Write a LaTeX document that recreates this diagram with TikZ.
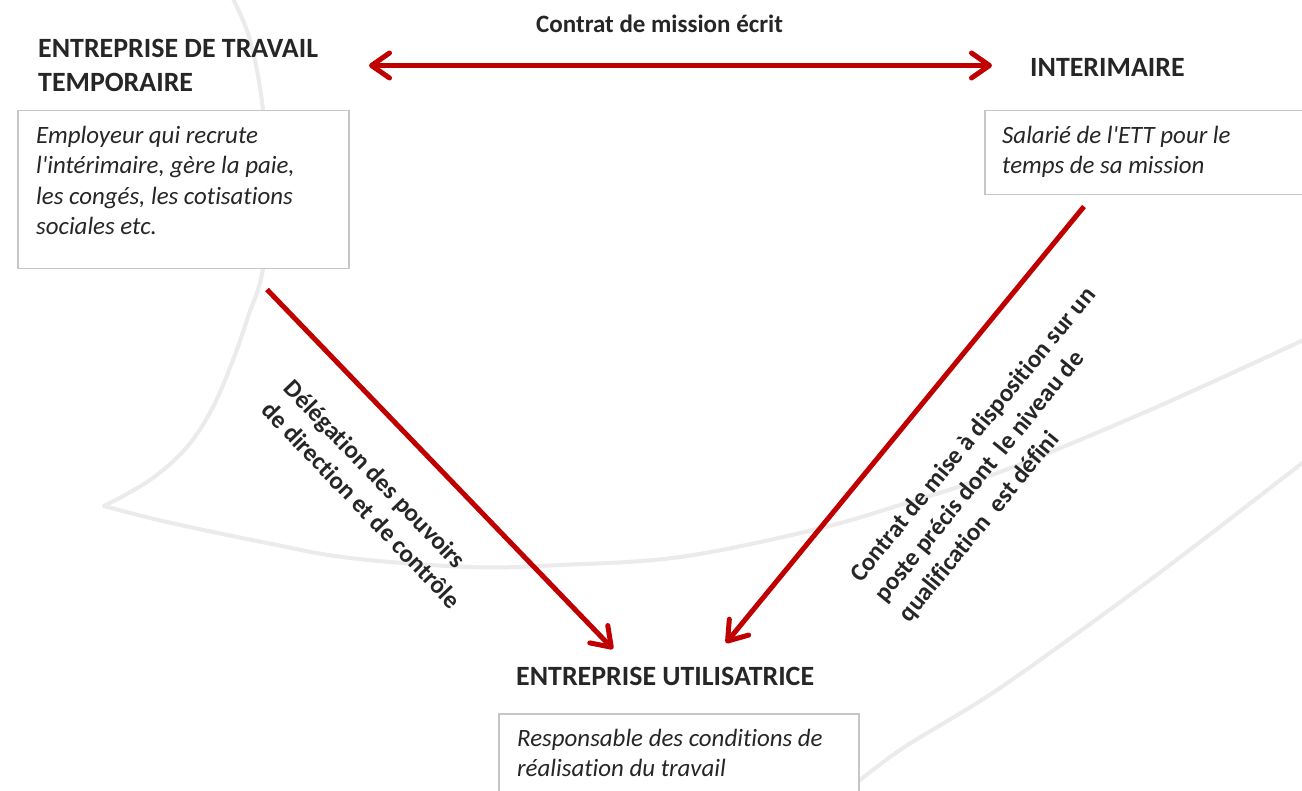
\documentclass[tikz,border=0pt]{standalone}
\usepackage{fontspec}
\setmainfont{Carlito}[Ligatures={TeX,NoCommon}]
\usetikzlibrary{arrows.meta,calc}
\definecolor{txt}{HTML}{262626}
\definecolor{dred}{HTML}{C00000}
\definecolor{bgl}{HTML}{EBEBEB}
\definecolor{bord}{HTML}{C6C6C6}
\begin{document}
\begin{tikzpicture}[x=1pt,y=-1pt,
  hdr/.style={font=\bfseries\fontsize{27.9}{33.9}\selectfont, text=txt, inner sep=0pt, align=left},
  lbl/.style={font=\bfseries\fontsize{25}{31.5}\selectfont, text=txt, inner sep=0pt, align=left},
  body/.style={font=\itshape\fontsize{24.9}{30.5}\selectfont, text=txt, inner sep=0pt, align=left, anchor=north west},
  card/.style={draw=bord, line width=1.5pt, fill=white, inner sep=0pt, anchor=north west},
  barb/.tip={Straight Barb[length=18pt,width=25pt,round]},
  rel/.style={draw=dred, line width=5pt, -barb},
  relboth/.style={draw=dred, line width=5pt, barb-barb},
  bgcurve/.style={draw=bgl, line width=4pt, line join=round}]

\useasboundingbox[fill=white] (0,0) rectangle (1302,791);

% faint background shapes
\draw[bgcurve] plot[smooth, tension=0.6] coordinates {(232,-3) (250,40) (263,110) (266,190) (263,268) (248,317) (233,360) (213,407) (187,447) (150,480) (104,506)}
  -- plot[smooth, tension=0.6] coordinates {(104,506) (167,522) (267,543) (350,558) (470,567) (560,565) (680,557) (813,530) (900,505) (1000,472) (1150,410) (1310,337)};
\draw[bgcurve] plot[smooth, tension=0.5] coordinates {(835,800) (900,750) (1000,688) (1150,580) (1310,457)};

% cards
\node[card, minimum width=331, minimum height=158] (ettcard) at (17,110) {};
\node[card, minimum width=340, minimum height=84] (intcard) at (984,110) {};
\node[card, minimum width=360, minimum height=100] (eucard) at (498,713) {};

% headers
\node[hdr, anchor=north west] (ett) at (38,33.3) {\strut ENTREPRISE DE TRAVAIL\\TEMPORAIRE};
\node[hdr, anchor=base west] (int) at (1030,77) {INTERIMAIRE};
\node[hdr, anchor=base west] (eu) at (516,685) {ENTREPRISE UTILISATRICE};

% card texts
\node[body] (etttxt) at ($(ettcard.north west)+(19,11.65)$) {\strut Employeur qui recrute\\l\textquotesingle intérimaire, gère la paie,\\les congés, les cotisations\\sociales etc.};
\node[body] (inttxt) at ($(intcard.north west)+(18,11.65)$) {\strut Salarié de l\textquotesingle ETT pour le\\temps de sa mission};
\node[body] (eutxt) at ($(eucard.north west)+(19,11.65)$) {\strut Responsable des conditions de\\réalisation du travail};

% connectors
\node[lbl, anchor=base west] (mission) at (536,33) {Contrat de mission écrit};
\coordinate (m1) at (369,65.5);
\coordinate (m2) at (992,65.5);
\draw[relboth] (m1) -- (m2);

\coordinate (d1s) at ($(ettcard.south west)+(250,20)$);
\coordinate (d1e) at (613,649);
\draw[rel] (d1s) -- (d1e);

\coordinate (d2s) at ($(intcard.south west)+(100,11)$);
\coordinate (d2e) at (726,643);
\draw[rel] (d2s) -- (d2e);

\node[lbl, rotate=-46.2] (deleg) at (373,494) {Délégation des pouvoirs\\de direction et de contrôle};
\node[lbl, rotate=50.7] (mad) at (998,455) {Contrat de mise à disposition sur un\\poste précis dont\ \ le niveau de\\qualification\ \ est défini};
\end{tikzpicture}
\end{document}
